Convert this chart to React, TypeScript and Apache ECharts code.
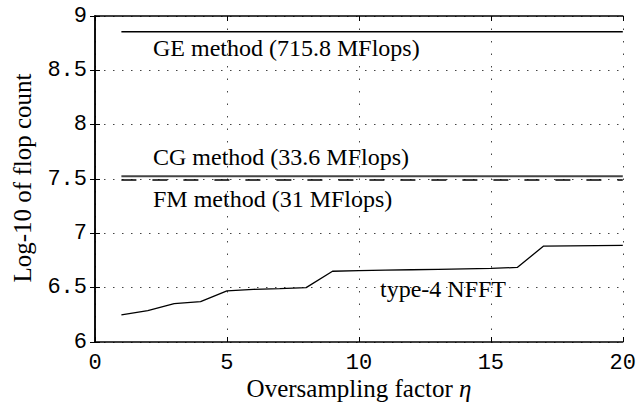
import React, { useEffect, useRef } from "react";
import * as echarts from "echarts";

const eta = [1, 2, 3, 4, 5, 6, 7, 8, 9, 10, 11, 12, 13, 14, 15, 16, 17, 18, 19, 20];
const nfftLog = [6.25, 6.289, 6.353, 6.372, 6.47, 6.485, 6.491, 6.5, 6.651, 6.657, 6.661, 6.665, 6.669, 6.673, 6.677, 6.686, 6.883, 6.885, 6.887, 6.889];
const flatRange = [1, 20];
const geLog = 8.855;
const cgLog = 7.526;
const fmLog = 7.491;
const xTicks = [0, 5, 10, 15, 20];
const yTicks = [6, 6.5, 7, 7.5, 8, 8.5, 9];
const labels = {
  ge: "GE method (715.8 MFlops)",
  cg: "CG method (33.6 MFlops)",
  fm: "FM method (31 MFlops)",
  nfft: "type-4 NFFT",
};
const xTitle = "Oversampling factor ";
const yTitle = "Log-10 of flop count";

const SERIF = "'Liberation Serif', 'Times New Roman', serif";
const MONO = "'Liberation Mono', 'Courier New', monospace";

export default function App() {
  const ref = useRef<HTMLDivElement>(null);
  useEffect(() => {
    if (!ref.current) return;
    const chart = echarts.init(ref.current, null, { renderer: "svg" });
    const axisLine = { show: true, lineStyle: { color: "#000", width: 1.5 } };
    const tick = { show: true, inside: true, length: 5, lineStyle: { color: "#000", width: 1 } };
    const textLabel = (text: string, x: number, y: number) => ({
      type: "text",
      x,
      y,
      style: { text, font: `24px ${SERIF}`, fill: "#000", verticalAlign: "middle", align: "left" },
      silent: true,
    });
    chart.setOption({
      animation: false,
      backgroundColor: "#fff",
      grid: { left: 95, right: 15, top: 16, bottom: 61 },
      xAxis: [
        {
          type: "value",
          min: 0,
          max: 20,
          interval: 5,
          position: "bottom",
          axisLine,
          axisTick: tick,
          axisLabel: {
            margin: 10,
            fontFamily: MONO,
            fontSize: 22,
            color: "#000",
            formatter: (v: number) => (xTicks.includes(v) ? String(v) : ""),
          },
          splitLine: { show: true, lineStyle: { color: "#444", width: 1, type: [1.5, 11] } },
        },
        {
          type: "value",
          min: 0,
          max: 20,
          interval: 5,
          position: "top",
          axisLine,
          axisTick: tick,
          axisLabel: { show: false },
          splitLine: { show: false },
        },
      ],
      yAxis: [
        {
          type: "value",
          min: 6,
          max: 9,
          interval: 0.5,
          position: "left",
          axisLine,
          axisTick: tick,
          axisLabel: {
            margin: 8,
            fontFamily: MONO,
            fontSize: 22,
            color: "#000",
            formatter: (v: number) => (yTicks.includes(v) ? String(v) : ""),
          },
          splitLine: { show: true, lineStyle: { color: "#444", width: 1, type: [1.5, 7.5] } },
        },
        {
          type: "value",
          min: 6,
          max: 9,
          interval: 0.5,
          position: "right",
          axisLine,
          axisTick: tick,
          axisLabel: { show: false },
          splitLine: { show: false },
        },
      ],
      series: [
        {
          type: "line",
          name: "GE",
          data: flatRange.map((x) => [x, geLog]),
          showSymbol: false,
          lineStyle: { color: "#000", width: 1.5 },
        },
        {
          type: "line",
          name: "CG",
          data: flatRange.map((x) => [x, cgLog]),
          showSymbol: false,
          lineStyle: { color: "#444", width: 2 },
        },
        {
          type: "line",
          name: "FM",
          data: flatRange.map((x) => [x, fmLog]),
          showSymbol: false,
          lineStyle: { color: "#000", width: 1.3, type: [15, 16] },
        },
        {
          type: "line",
          name: "NFFT",
          data: eta.map((x, i) => [x, nfftLog[i]]),
          showSymbol: false,
          lineStyle: { color: "#000", width: 1.3 },
        },
      ],
      graphic: [
        textLabel(labels.ge, 153, 48),
        textLabel(labels.cg, 153, 157),
        textLabel(labels.fm, 153, 199),
        textLabel(labels.nfft, 380, 289),
        {
          type: "text",
          x: 359,
          y: 388,
          style: {
            text: `${xTitle}{i|η}`,
            font: `25px ${SERIF}`,
            fill: "#000",
            align: "center",
            verticalAlign: "middle",
            rich: { i: { fontFamily: SERIF, fontSize: 25, fontStyle: "italic", fill: "#000" } },
          },
          silent: true,
        },
        {
          type: "text",
          x: 22,
          y: 178,
          rotation: Math.PI / 2,
          style: {
            text: yTitle,
            font: `25px ${SERIF}`,
            fill: "#000",
            align: "center",
            verticalAlign: "middle",
          },
          silent: true,
        },
      ],
    });
    return () => chart.dispose();
  }, []);
  return <div ref={ref} style={{ width: 639, height: 403, position: "absolute", left: 0, top: 0 }} />;
}
